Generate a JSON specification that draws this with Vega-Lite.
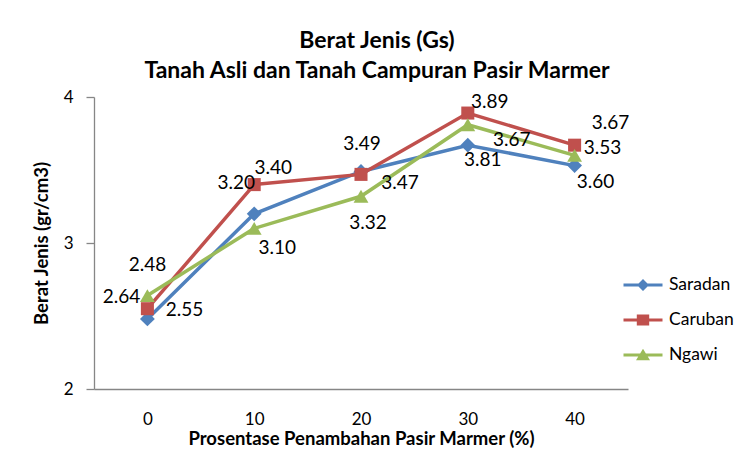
{
  "$schema": "https://vega.github.io/schema/vega-lite/v6.json",
  "width": 534,
  "height": 292,
  "autosize": "none",
  "padding": {"left": 94, "top": 97, "right": 111, "bottom": 61},
  "background": "white",
  "title": {
    "text": ["Berat Jenis (Gs)", "Tanah Asli dan Tanah Campuran Pasir Marmer"],
    "anchor": "middle",
    "frame": "group",
    "dx": 16,
    "offset": 5,
    "fontSize": 23,
    "font": "Lato",
    "fontWeight": "bold",
    "lineHeight": 30,
    "color": "#000000"
  },
  "data": {
    "values": [
      {"x": 0, "s": "Saradan", "v": 2.48},
      {"x": 10, "s": "Saradan", "v": 3.20},
      {"x": 20, "s": "Saradan", "v": 3.49},
      {"x": 30, "s": "Saradan", "v": 3.67},
      {"x": 40, "s": "Saradan", "v": 3.53},
      {"x": 0, "s": "Caruban", "v": 2.55},
      {"x": 10, "s": "Caruban", "v": 3.40},
      {"x": 20, "s": "Caruban", "v": 3.47},
      {"x": 30, "s": "Caruban", "v": 3.89},
      {"x": 40, "s": "Caruban", "v": 3.67},
      {"x": 0, "s": "Ngawi", "v": 2.64},
      {"x": 10, "s": "Ngawi", "v": 3.10},
      {"x": 20, "s": "Ngawi", "v": 3.32},
      {"x": 30, "s": "Ngawi", "v": 3.81},
      {"x": 40, "s": "Ngawi", "v": 3.60}
    ]
  },
  "encoding": {
    "x": {
      "field": "x",
      "type": "ordinal",
      "scale": {"type": "point", "padding": 0.5},
      "axis": {
        "title": "Prosentase Penambahan  Pasir  Marmer  (%)",
        "labelAngle": 0,
        "ticks": false,
        "tickSize": 0,
        "labelPadding": 22,
        "titlePadding": 2,
        "domainColor": "#868686",
        "domainWidth": 1.3,
        "labelFont": "Lato",
        "labelFontSize": 17,
        "labelColor": "#000000",
        "titleFont": "Lato",
        "titleFontSize": 18.5,
        "titleFontWeight": "bold",
        "titleColor": "#000000",
        "grid": false
      }
    },
    "y": {
      "field": "v",
      "type": "quantitative",
      "scale": {"domain": [2, 4], "nice": false, "zero": false},
      "axis": {
        "title": "Berat Jenis (gr/cm3)",
        "tickCount": 5,
        "tickMinStep": 1,
        "labelOverlap": false,
        "format": "d",
        "grid": false,
        "tickSize": 8,
        "tickColor": "#868686",
        "tickWidth": 1.3,
        "domainColor": "#868686",
        "domainWidth": 1.3,
        "labelPadding": 13,
        "labelFont": "Lato",
        "labelFontSize": 17,
        "labelColor": "#000000",
        "titleFont": "Lato",
        "titleFontSize": 18.5,
        "titleFontWeight": "bold",
        "titleColor": "#000000",
        "titlePadding": 12
      }
    }
  },
  "layer": [
    {
      "transform": [{"filter": "datum.s === 'Saradan'"}],
      "mark": {"type": "line", "strokeWidth": 3.5, "color": "#4F81BD"},
      "encoding": {}
    },
    {
      "transform": [{"filter": "datum.s === 'Saradan'"}],
      "mark": {"type": "point", "shape": "diamond", "filled": true, "opacity": 1, "size": 220, "strokeWidth": 0, "color": "#4F81BD"},
      "encoding": {}
    },
    {
      "transform": [{"filter": "datum.s === 'Caruban'"}],
      "mark": {"type": "line", "strokeWidth": 3.5, "color": "#C0504D"},
      "encoding": {}
    },
    {
      "transform": [{"filter": "datum.s === 'Caruban'"}],
      "mark": {"type": "point", "shape": "square", "filled": true, "opacity": 1, "size": 170, "strokeWidth": 0, "color": "#C0504D"},
      "encoding": {}
    },
    {
      "transform": [{"filter": "datum.s === 'Ngawi'"}],
      "mark": {"type": "line", "strokeWidth": 3.5, "color": "#9BBB59"},
      "encoding": {}
    },
    {
      "transform": [{"filter": "datum.s === 'Ngawi'"}],
      "mark": {"type": "point", "shape": "triangle-up", "filled": true, "opacity": 1, "size": 220, "strokeWidth": 0, "color": "#9BBB59"},
      "encoding": {}
    },
    {
      "mark": {"type": "point", "filled": true, "opacity": 0, "size": 10},
      "encoding": {
        "color": {
          "field": "s",
          "type": "nominal",
          "sort": null,
          "scale": {"domain": ["Saradan", "Caruban", "Ngawi"], "range": ["#4F81BD", "#C0504D", "#9BBB59"]},
          "legend": {
            "title": null,
            "orient": "none",
            "legendX": 539,
            "legendY": 178,
            "padding": 0,
            "symbolSize": 400,
            "symbolOpacity": 1,
            "symbolStrokeWidth": 0,
            "rowPadding": 16,
            "labelOffset": 16,
            "labelFont": "Lato",
            "labelFontSize": 17.5,
            "labelColor": "#000000"
          }
        },
        "shape": {
          "field": "s",
          "type": "nominal",
          "sort": null,
          "scale": {
            "domain": ["Saradan", "Caruban", "Ngawi"],
            "range": [
              "M-1.95,-0.15 L1.95,-0.15 L1.95,0.15 L-1.95,0.15 Z M0,-0.6 L0.6,0 L0,0.6 L-0.6,0 Z",
              "M-1.95,-0.15 L1.95,-0.15 L1.95,0.15 L-1.95,0.15 Z M-0.62,-0.55 L0.62,-0.55 L0.62,0.55 L-0.62,0.55 Z",
              "M-1.95,-0.15 L1.95,-0.15 L1.95,0.15 L-1.95,0.15 Z M0,-0.62 L0.7,0.52 L-0.7,0.52 Z"
            ]
          },
          "legend": {
            "title": null,
            "orient": "none",
            "legendX": 539,
            "legendY": 178,
            "padding": 0,
            "symbolSize": 400,
            "symbolOpacity": 1,
            "symbolStrokeWidth": 0,
            "rowPadding": 16,
            "labelOffset": 16,
            "labelFont": "Lato",
            "labelFontSize": 17.5,
            "labelColor": "#000000"
          }
        }
      }
    },
    {"transform": [{"filter": "datum.s === 'Saradan' && datum.x == 0"}], "mark": {"type": "text", "dx": 0, "dy": -54}, "encoding": {"text": {"field": "v", "type": "quantitative", "format": ".2f"}}},
    {"transform": [{"filter": "datum.s === 'Saradan' && datum.x == 10"}], "mark": {"type": "text", "dx": -18, "dy": -31}, "encoding": {"text": {"field": "v", "type": "quantitative", "format": ".2f"}}},
    {"transform": [{"filter": "datum.s === 'Saradan' && datum.x == 20"}], "mark": {"type": "text", "dx": 1, "dy": -27}, "encoding": {"text": {"field": "v", "type": "quantitative", "format": ".2f"}}},
    {"transform": [{"filter": "datum.s === 'Saradan' && datum.x == 30"}], "mark": {"type": "text", "dx": 44, "dy": -5}, "encoding": {"text": {"field": "v", "type": "quantitative", "format": ".2f"}}},
    {"transform": [{"filter": "datum.s === 'Saradan' && datum.x == 40"}], "mark": {"type": "text", "dx": 28, "dy": -18}, "encoding": {"text": {"field": "v", "type": "quantitative", "format": ".2f"}}},
    {"transform": [{"filter": "datum.s === 'Caruban' && datum.x == 0"}], "mark": {"type": "text", "dx": 37, "dy": 1}, "encoding": {"text": {"field": "v", "type": "quantitative", "format": ".2f"}}},
    {"transform": [{"filter": "datum.s === 'Caruban' && datum.x == 10"}], "mark": {"type": "text", "dx": 19, "dy": -17}, "encoding": {"text": {"field": "v", "type": "quantitative", "format": ".2f"}}},
    {"transform": [{"filter": "datum.s === 'Caruban' && datum.x == 20"}], "mark": {"type": "text", "dx": 39, "dy": 9}, "encoding": {"text": {"field": "v", "type": "quantitative", "format": ".2f"}}},
    {"transform": [{"filter": "datum.s === 'Caruban' && datum.x == 30"}], "mark": {"type": "text", "dx": 22, "dy": -11}, "encoding": {"text": {"field": "v", "type": "quantitative", "format": ".2f"}}},
    {"transform": [{"filter": "datum.s === 'Caruban' && datum.x == 40"}], "mark": {"type": "text", "dx": 36, "dy": -22}, "encoding": {"text": {"field": "v", "type": "quantitative", "format": ".2f"}}},
    {"transform": [{"filter": "datum.s === 'Ngawi' && datum.x == 0"}], "mark": {"type": "text", "dx": -26, "dy": 1}, "encoding": {"text": {"field": "v", "type": "quantitative", "format": ".2f"}}},
    {"transform": [{"filter": "datum.s === 'Ngawi' && datum.x == 10"}], "mark": {"type": "text", "dx": 23, "dy": 20}, "encoding": {"text": {"field": "v", "type": "quantitative", "format": ".2f"}}},
    {"transform": [{"filter": "datum.s === 'Ngawi' && datum.x == 20"}], "mark": {"type": "text", "dx": 7, "dy": 27}, "encoding": {"text": {"field": "v", "type": "quantitative", "format": ".2f"}}},
    {"transform": [{"filter": "datum.s === 'Ngawi' && datum.x == 30"}], "mark": {"type": "text", "dx": 15, "dy": 35}, "encoding": {"text": {"field": "v", "type": "quantitative", "format": ".2f"}}},
    {"transform": [{"filter": "datum.s === 'Ngawi' && datum.x == 40"}], "mark": {"type": "text", "dx": 21, "dy": 27}, "encoding": {"text": {"field": "v", "type": "quantitative", "format": ".2f"}}}
  ],
  "config": {
    "view": {"stroke": null},
    "text": {"font": "Lato", "fontSize": 19, "color": "#000000"}
  }
}
